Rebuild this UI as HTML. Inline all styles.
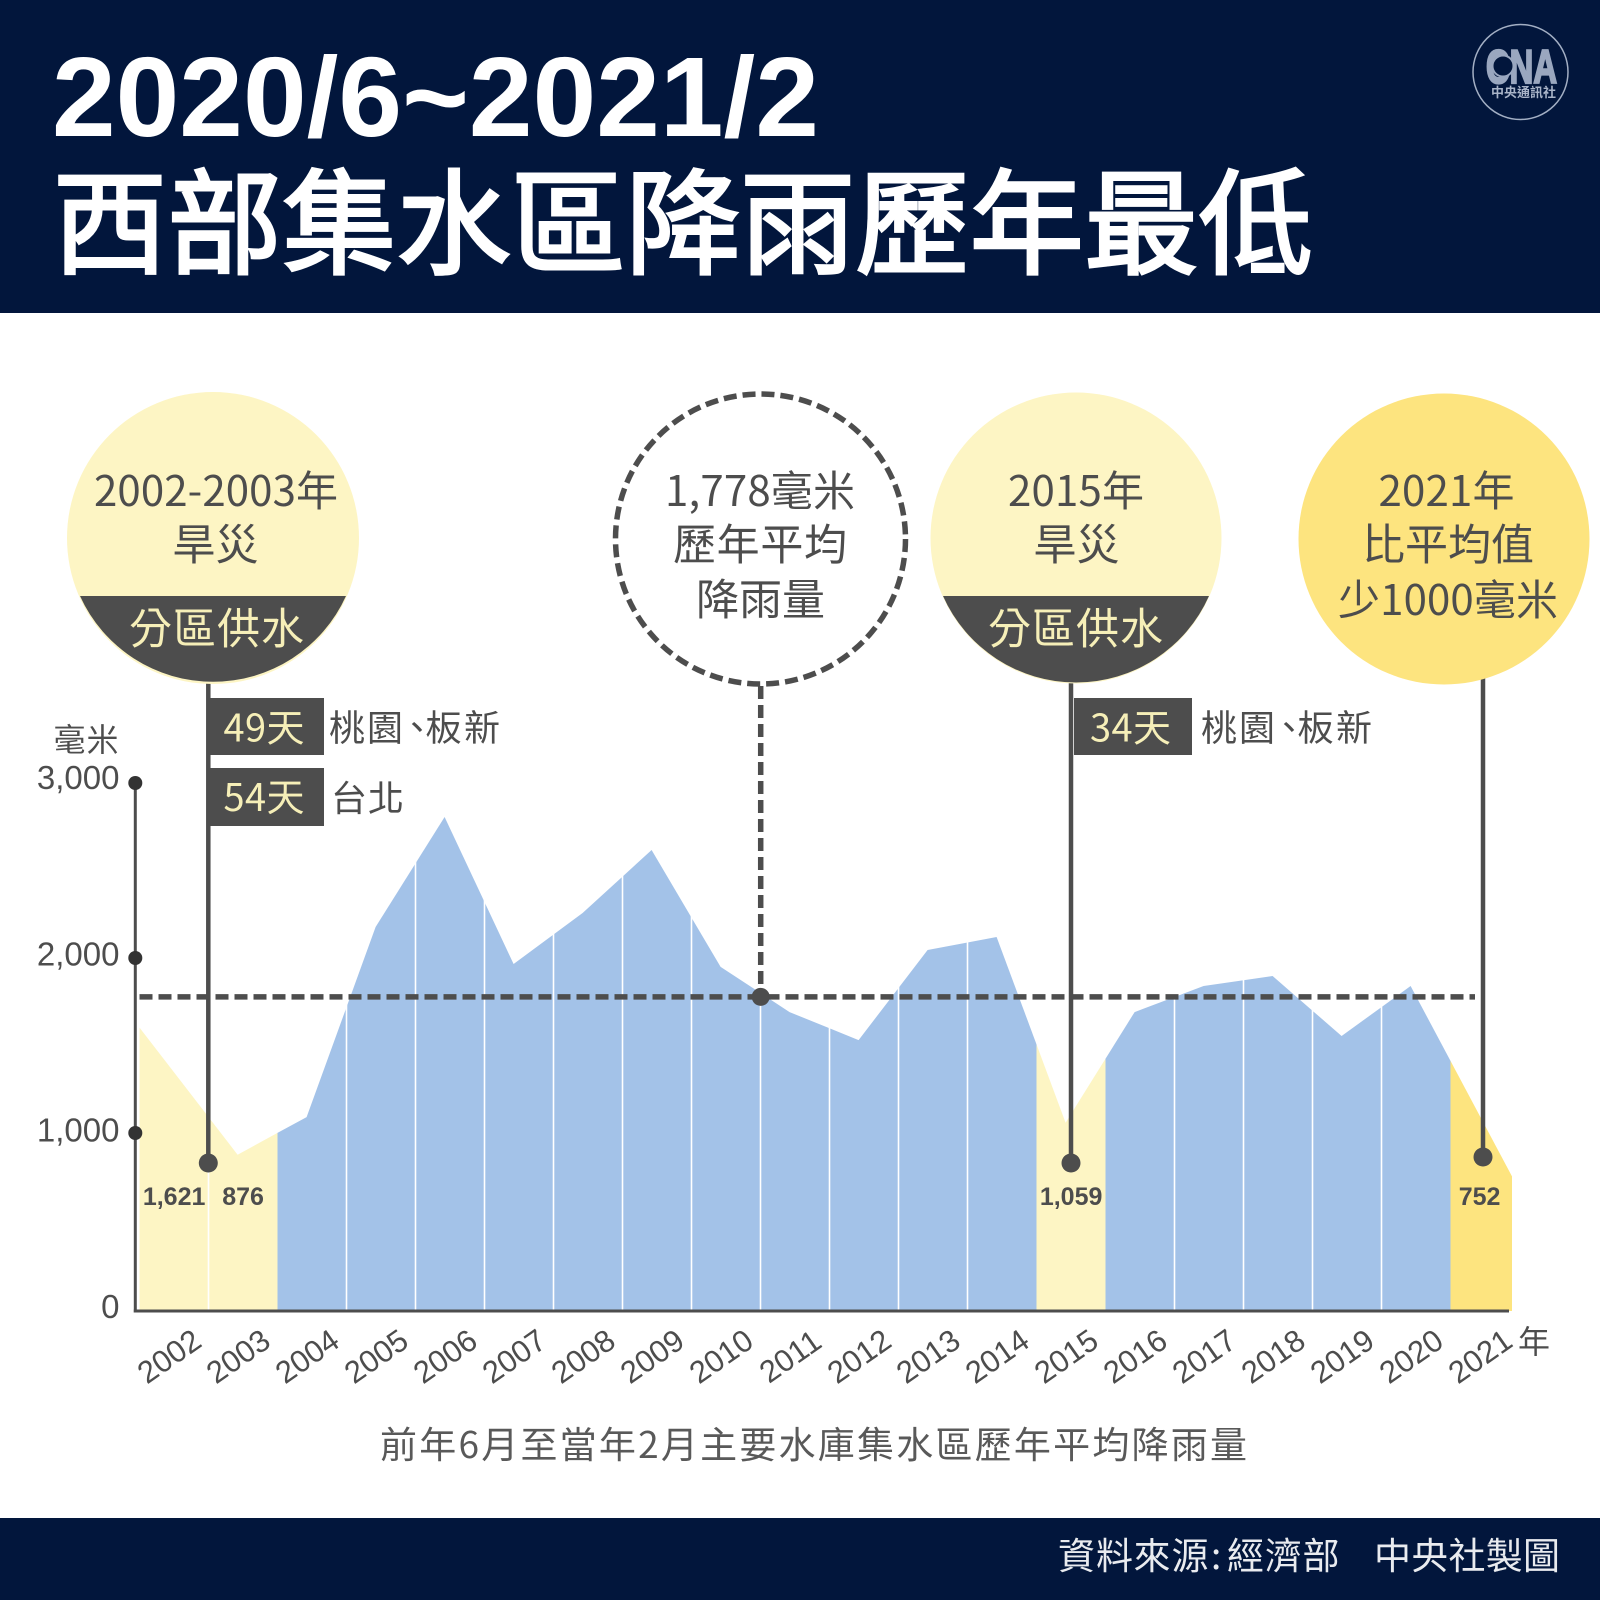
<!DOCTYPE html>
<html lang="zh-Hant">
<head>
<meta charset="utf-8">
<title>西部集水區降雨歷年最低</title>
<style>
html,body{margin:0;padding:0;background:#fff;}
svg{display:block;}
.cjk{font-family:"Liberation Sans","Noto Sans CJK TC",sans-serif;}
.noto{font-family:"Noto Sans CJK TC","Liberation Sans",sans-serif;}
.lat{font-family:"Liberation Sans",sans-serif;}
</style>
</head>
<body>
<svg id="chart" xmlns="http://www.w3.org/2000/svg" width="1600" height="1600" viewBox="0 0 1600 1600">
  <rect x="0" y="0" width="1600" height="1600" fill="#ffffff"/>
  <rect x="0" y="0" width="1600" height="313" fill="#02163c"/>
  <rect x="0" y="1518" width="1600" height="82" fill="#02163c"/>

  <text class="lat" x="52" y="136" font-size="113" font-weight="700" fill="#ffffff" textLength="767" lengthAdjust="spacingAndGlyphs">2020/6~2021/2</text>
  <text class="noto" x="53" y="265" font-size="114" font-weight="400" fill="#ffffff" stroke="#ffffff" stroke-width="3" textLength="1260">西部集水區降雨歷年最低</text>

  <g>
    <circle cx="1520.5" cy="72" r="47.5" fill="none" stroke="#a3afc4" stroke-width="1.5"/>
    <text class="lat" x="1486" y="83" font-size="47" font-weight="700" fill="#9aa7bf" stroke="#9aa7bf" stroke-width="2.2" textLength="71" lengthAdjust="spacingAndGlyphs">CNA</text>
    <circle cx="1503" cy="66" r="10.5" fill="#02163c" stroke="#9aa7bf" stroke-width="2"/>
    <text class="noto" x="1491" y="97" font-size="13" font-weight="700" fill="#a9b4c8" textLength="65">中央通訊社</text>
  </g>

  <g id="area-layer"></g>
  <g id="axis-layer"></g>

  <g>
    <line x1="208.3" y1="670" x2="208.3" y2="1163" stroke="#4d4d4d" stroke-width="4.5"/>
    <circle cx="208.3" cy="1163" r="9.5" fill="#4d4d4d"/>
    <line x1="1071" y1="670" x2="1071" y2="1163" stroke="#4d4d4d" stroke-width="4.5"/>
    <circle cx="1071" cy="1163" r="9.5" fill="#4d4d4d"/>
    <line x1="1483" y1="670" x2="1483" y2="1157" stroke="#4d4d4d" stroke-width="4.5"/>
    <circle cx="1483" cy="1157" r="9.5" fill="#4d4d4d"/>
    <line x1="760.7" y1="686" x2="760.7" y2="992" stroke="#4d4d4d" stroke-width="5.5" stroke-dasharray="13 6"/>
  </g>
  <g id="avg-layer"></g>

  <g>
    <circle cx="213" cy="538" r="146" fill="#fdf5c4"/>
    <path d="M80 596 H346 A146 146 0 0 1 80 596 Z" fill="#4d4d4d"/>
    <text class="noto" x="94" y="506" font-size="42" fill="#4d4d4d" textLength="244">2002-2003年</text>
    <text class="noto" x="172.5" y="560" font-size="43" fill="#4d4d4d" textLength="86">旱災</text>
    <text class="noto" x="129" y="644" font-size="43" fill="#f6efb8" textLength="175">分區供水</text>
  </g>
  <g>
    <circle cx="760.5" cy="539" r="145" fill="#ffffff" stroke="#4d4d4d" stroke-width="5.5" stroke-dasharray="13 6"/>
    <text class="noto" x="665" y="506" font-size="42" fill="#4d4d4d" textLength="190">1,778毫米</text>
    <text class="noto" x="673" y="560" font-size="43" fill="#4d4d4d" textLength="174">歷年平均</text>
    <text class="noto" x="696" y="615" font-size="43" fill="#4d4d4d" textLength="129">降雨量</text>
  </g>
  <g>
    <circle cx="1076" cy="538" r="145.5" fill="#fdf5c4"/>
    <path d="M943 596 H1209 A145.5 145.5 0 0 1 943 596 Z" fill="#4d4d4d"/>
    <text class="noto" x="1008" y="506" font-size="42" fill="#4d4d4d" textLength="136">2015年</text>
    <text class="noto" x="1033.5" y="560" font-size="43" fill="#4d4d4d" textLength="86">旱災</text>
    <text class="noto" x="988" y="644" font-size="43" fill="#f6efb8" textLength="175">分區供水</text>
  </g>
  <g>
    <circle cx="1444" cy="539" r="145.5" fill="#fde47f"/>
    <text class="noto" x="1378.5" y="506" font-size="42" fill="#4d4d4d" textLength="136">2021年</text>
    <text class="noto" x="1362" y="560" font-size="43" fill="#4d4d4d" textLength="172">比平均值</text>
    <text class="noto" x="1338" y="615" font-size="42" fill="#4d4d4d" textLength="220">少1000毫米</text>
  </g>

  <g>
    <rect x="206.5" y="698" width="117.5" height="57" fill="#4d4d4d"/>
    <text class="noto" x="223.5" y="741.5" font-size="38" fill="#f6efb8" textLength="81">49天</text>
    <text class="noto" x="329 367 399 425.5 464" y="740.5" font-size="36" fill="#4d4d4d">桃園、板新</text>
    <rect x="206.5" y="768" width="117.5" height="58" fill="#4d4d4d"/>
    <text class="noto" x="223.5" y="811" font-size="38" fill="#f6efb8" textLength="81">54天</text>
    <text class="noto" x="331" y="811" font-size="36" fill="#4d4d4d" textLength="73">台北</text>
    <rect x="1074" y="698" width="118" height="57" fill="#4d4d4d"/>
    <text class="noto" x="1090" y="741.5" font-size="38" fill="#f6efb8" textLength="81">34天</text>
    <text class="noto" x="1201 1239 1271 1297.5 1336" y="740.5" font-size="36" fill="#4d4d4d">桃園、板新</text>
  </g>

  <text class="noto" x="53.5" y="751" font-size="32" fill="#4d4d4d" textLength="65">毫米</text>
  <text class="noto" x="1518" y="1353" font-size="32" fill="#4d4d4d">年</text>
  <text class="noto" x="380" y="1458" font-size="37" fill="#595959" textLength="867">前年6月至當年2月主要水庫集水區歷年平均降雨量</text>
  <text class="noto" x="1058 1096 1133.5 1171.5 1211 1227 1265 1302.5" y="1569" font-size="37" fill="#e9ebef">資料來源:經濟部</text>
  <text class="noto" x="1374" y="1569" font-size="37" fill="#e9ebef" textLength="186">中央社製圖</text>
</svg>
<script>
const categories = [2002,2003,2004,2005,2006,2007,2008,2009,2010,2011,2012,2013,2014,2015,2016,2017,2018,2019,2020,2021];
const rainfall = [1621,876,1091,2177,2806,1966,2257,2617,1949,1691,1531,2046,2120,1059,1691,1840,1897,1554,1840,752];
const yearStatus = ['drought','drought','normal','normal','normal','normal','normal','normal','normal','normal','normal','normal','normal','drought','normal','normal','normal','normal','normal','current'];
const yTicks = [0,1000,2000,3000];
const yTickDots = [1000,2000,3000];
const annotatedYears = [2002,2003,2015,2021];
const averageRainfall = 1778;

const NS = 'http://www.w3.org/2000/svg';
const PLOT_LEFT = 137, PLOT_RIGHT = 1512, BASELINE = 1311, AXIS_X = 135.3;
const STATUS_FILL = {drought:'#fdf5c4', normal:'#a3c2e8', current:'#fde47f'};

function xScale(i){
  if(i === 0) return PLOT_LEFT;
  if(i === categories.length - 1) return PLOT_RIGHT;
  return 168.6 + 69 * i;
}
function labelX(i){ return 169 + 69 * i; }
function bandLeft(i){ return Math.max(PLOT_LEFT, 139.5 + 69 * i); }
function bandRight(i){ return Math.min(PLOT_RIGHT, 139.5 + 69 * (i + 1)); }
function yScale(v){ return 1308 - v * 0.175; }
function yTickLabel(v){ return 1318 - v * 0.1763; }
function curveY(x){
  for(let i = 0; i < rainfall.length - 1; i++){
    const x0 = xScale(i), x1 = xScale(i + 1);
    if(x >= x0 && x <= x1){
      const t = (x - x0) / (x1 - x0);
      return yScale(rainfall[i]) + t * (yScale(rainfall[i + 1]) - yScale(rainfall[i]));
    }
  }
  return yScale(rainfall[rainfall.length - 1]);
}
function el(tag, attrs, parent, text){
  const e = document.createElementNS(NS, tag);
  for(const k in attrs) e.setAttribute(k, attrs[k]);
  if(text !== undefined) e.textContent = text;
  parent.appendChild(e);
  return e;
}

const areaLayer = document.getElementById('area-layer');
const axisLayer = document.getElementById('axis-layer');
const avgLayer = document.getElementById('avg-layer');

categories.forEach(function(year, i){
  const l = bandLeft(i), r = bandRight(i);
  const pts = [[l, BASELINE], [l, curveY(l)]];
  rainfall.forEach(function(v, j){
    const px = xScale(j);
    if(px > l && px < r) pts.push([px, yScale(v)]);
  });
  pts.push([r, curveY(r)], [r, BASELINE]);
  const band = el('polygon', {points: pts.map(function(p){ return p[0].toFixed(1) + ',' + p[1].toFixed(1); }).join(' '), fill: STATUS_FILL[yearStatus[i]]}, areaLayer);
  
  
});

categories.forEach(function(year, i){
  if(i === categories.length - 1 || yearStatus[i] !== yearStatus[i + 1]) return;
  const ex = bandRight(i);
  const sep = el('line', {x1: ex, x2: ex, y1: curveY(ex) - 2, y2: BASELINE, stroke: '#ffffff', 'stroke-width': 1.6}, areaLayer);
  
  
});

const yAxisLine = el('line', {x1: AXIS_X, x2: AXIS_X, y1: yScale(3000), y2: BASELINE + 1.5, stroke: '#4d4d4d', 'stroke-width': 3}, axisLayer);



const xAxisLine = el('line', {x1: AXIS_X - 1.5, x2: 1509, y1: BASELINE, y2: BASELINE, stroke: '#4d4d4d', 'stroke-width': 3}, axisLayer);



yTickDots.forEach(function(v){
  const dot = el('circle', {cx: AXIS_X, cy: yScale(v), r: 7, fill: '#333333'}, axisLayer);
  
  
});

yTicks.forEach(function(v){
  const t = el('text', {x: 119.5, y: yTickLabel(v), 'font-size': 33, fill: '#4d4d4d', 'text-anchor': 'end', 'class': 'lat'}, axisLayer, v.toLocaleString('en-US'));
  
  
});

categories.forEach(function(year, i){
  const cx = labelX(i), cy = 1356;
  const t = el('text', {x: cx, y: cy + 11, 'font-size': 31, fill: '#4d4d4d', 'text-anchor': 'middle', 'class': 'lat', transform: 'rotate(-35 ' + cx + ' ' + cy + ')'}, axisLayer, String(year));
  
  
});

annotatedYears.forEach(function(year){
  const i = categories.indexOf(year);
  const isLast = i === categories.length - 1;
  const t = el('text', {x: 168.6 + 69 * i + (isLast ? 0 : 5.5), y: 1205, 'font-size': 25, 'font-weight': 700, fill: '#4d4d4d', 'text-anchor': 'middle', 'class': 'lat'}, axisLayer, rainfall[i].toLocaleString('en-US'));
  
  
});

const avgLine = el('line', {x1: 139.5, x2: 1475, y1: yScale(averageRainfall), y2: yScale(averageRainfall), stroke: '#4d4d4d', 'stroke-width': 5.5, 'stroke-dasharray': '13 6'}, avgLayer);



const avgDot = el('circle', {cx: 760.7, cy: yScale(averageRainfall), r: 9, fill: '#4d4d4d'}, avgLayer);


</script>
</body>
</html>
